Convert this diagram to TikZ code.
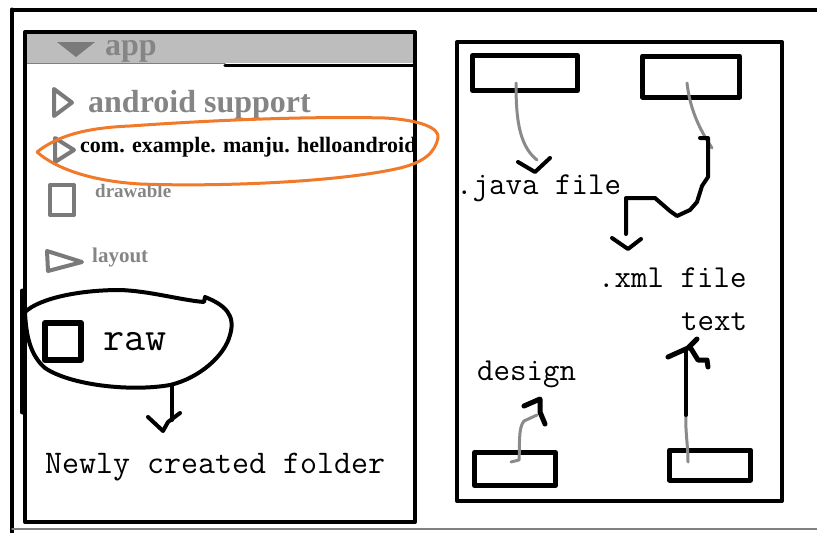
\documentclass[tikz,border=0pt]{standalone}
\usepackage{fontspec}
\setmainfont{Liberation Serif}
\begin{document}
\begin{tikzpicture}[x=1pt,y=-1pt,line join=round,line cap=round]
\definecolor{hdr}{HTML}{BDBDBD}
\definecolor{gicon}{HTML}{7A7A7A}
\definecolor{gtext}{HTML}{858585}
\definecolor{orng}{HTML}{F07A2A}
\definecolor{gline}{HTML}{8A8A8A}
\tikzset{
  frame/.style={draw=black,line width=4pt},
  smallbox/.style={draw=black,line width=5pt},
  icon/.style={draw=gicon,line width=4pt},
  serifbig/.style={font=\fontsize{32}{34}\selectfont\bfseries,text=gtext,inner sep=0pt,anchor=base west},
  mono/.style={font=\fontsize{32}{34}\ttfamily,inner sep=0pt,anchor=base west},
  pen/.style={draw=black,line width=4pt},
  graypen/.style={draw=gline,line width=3pt},
}
\useasboundingbox (0,0) rectangle (817,533);
\fill[white] (0,0) rectangle (817,533);
% outer frame
\draw[frame] (12,9.5) -- (817,9.5);
\draw[frame] (12,9.5) -- (12,533);
\draw[draw=gray,line width=1.5pt] (12,529) -- (817,529);
% left panel
\fill[hdr] (27,33) rectangle (415,63);
\draw[draw=gray,line width=1.5pt] (27,63.5) -- (225,63.5);
\draw[black,line width=3.5pt] (225,65.5) -- (415,65.5);
\draw[frame] (25,32) rectangle (415,522);
\fill[gicon] (57,42) -- (95,42) -- (76,57) -- cycle;
\node[serifbig] (app) at (105,55) {app};
\draw[icon] (54,89) -- (54,116) -- (72,102.5) -- cycle;
\node[serifbig] (asup) at (88,112) {android support};
\draw[icon] (55,138) -- (55,162) -- (74,150) -- cycle;
\node[font=\fontsize{22}{24}\selectfont\bfseries,inner sep=0pt,anchor=base west] (pkg) at (80,152) {com. example. manju. helloandroid};
\draw[icon] (50,185) rectangle (74,215);
\node[font=\fontsize{19}{21}\selectfont\bfseries,text=gtext,inner sep=0pt,anchor=base west] (draw) at (95,197) {drawable};
\node[font=\fontsize{21}{23}\selectfont\bfseries,text=gtext,inner sep=0pt,anchor=base west] (lay) at (92,262) {layout};
\draw[icon] (47,251) -- (48,271) -- (82,262) -- cycle;
% orange loop
\draw[orng,line width=3pt] (37,152) .. controls (55,138) and (80,128) .. (130,126)
  .. controls (200,121) and (300,116) .. (385,118)
  .. controls (420,120) and (440,128) .. (438,138)
  .. controls (435,152) and (425,162) .. (400,168)
  .. controls (340,182) and (220,187) .. (140,184)
  .. controls (90,181) and (55,168) .. (37,152);
% raw blob
\draw[black,line width=5pt] (22,291) -- (22,412);
\draw[pen] (25,312) .. controls (40,298) and (80,290) .. (120,290)
  .. controls (150,291) and (180,300) .. (204,302)
  -- (205,297)
  .. controls (225,305) and (236,315) .. (230,335)
  .. controls (225,355) and (200,378) .. (170,385)
  .. controls (130,392) and (70,385) .. (45,368)
  .. controls (30,355) and (26,335) .. (25,312);
\draw[black,line width=6pt] (45,323) rectangle (81,360);
\node[font=\fontsize{41}{43}\ttfamily,inner sep=0pt,anchor=base west] (raw) at (103,350) {raw};
\coordinate (blobb) at (172,386);
\coordinate (rawarr) at (172,420);
\draw[pen] (blobb) -- (rawarr);
\draw[pen] (148,417) -- (163,431) -- (168,422) -- (180,413);
\node[font=\fontsize{33}{35}\ttfamily,inner sep=0pt,anchor=base west] (newly) at (45,473) {Newly created folder};
% right panel
\draw[frame] (457,42) rectangle (782,501);
\node[smallbox,minimum width=105pt,minimum height=35pt,inner sep=0pt] (tl) at (525,73) {};
\node[smallbox,minimum width=97pt,minimum height=41pt,inner sep=0pt] (tr) at (691,76.5) {};
\node[smallbox,minimum width=81pt,minimum height=33pt,inner sep=0pt] (bl) at (515,469) {};
\node[smallbox,minimum width=81pt,minimum height=30pt,inner sep=0pt] (br) at (710,465) {};
\node[mono] (java) at (456,194) {.java file};
\node[mono] (xml) at (598,287) {.xml file};
\node[mono] (txt) at (681,330) {text};
\node[mono] (design) at (477,380) {design};
% tl -> java
\draw[graypen] (516,83) .. controls (516,115) and (518,145) .. (537,160);
\draw[pen] (518,162) -- (535,172) -- (550,158);
% tr -> xml
\draw[graypen] (687,83) .. controls (690,110) and (700,130) .. (712,148);
\draw[pen] (700,138) -- (708,138) -- (708,177) -- (702,186) -- (697,202) -- (690,210) -- (677,216) -- (670,211) -- (655,198) -- (626,198) -- (626,234);
\draw[pen] (612,238) -- (628,249) -- (641,239);
% br -> text
\draw[graypen] (688,462) .. controls (688,445) and (685,430) .. (686,415);
\draw[pen] (686,415) -- (686,350);
\draw[black,line width=5pt] (668,357) -- (688,348) -- (697,339);
\draw[black,line width=5pt] (690,347) -- (698,360) -- (707,360) -- (708,367);
% bl -> design
\draw[graypen] (511,462) -- (519,460) .. controls (520,445) and (518,428) .. (524,421) -- (537,415);
\draw[black,line width=5pt] (524,406) -- (540,399) -- (540,412) -- (545,424);
\end{tikzpicture}
\end{document}
